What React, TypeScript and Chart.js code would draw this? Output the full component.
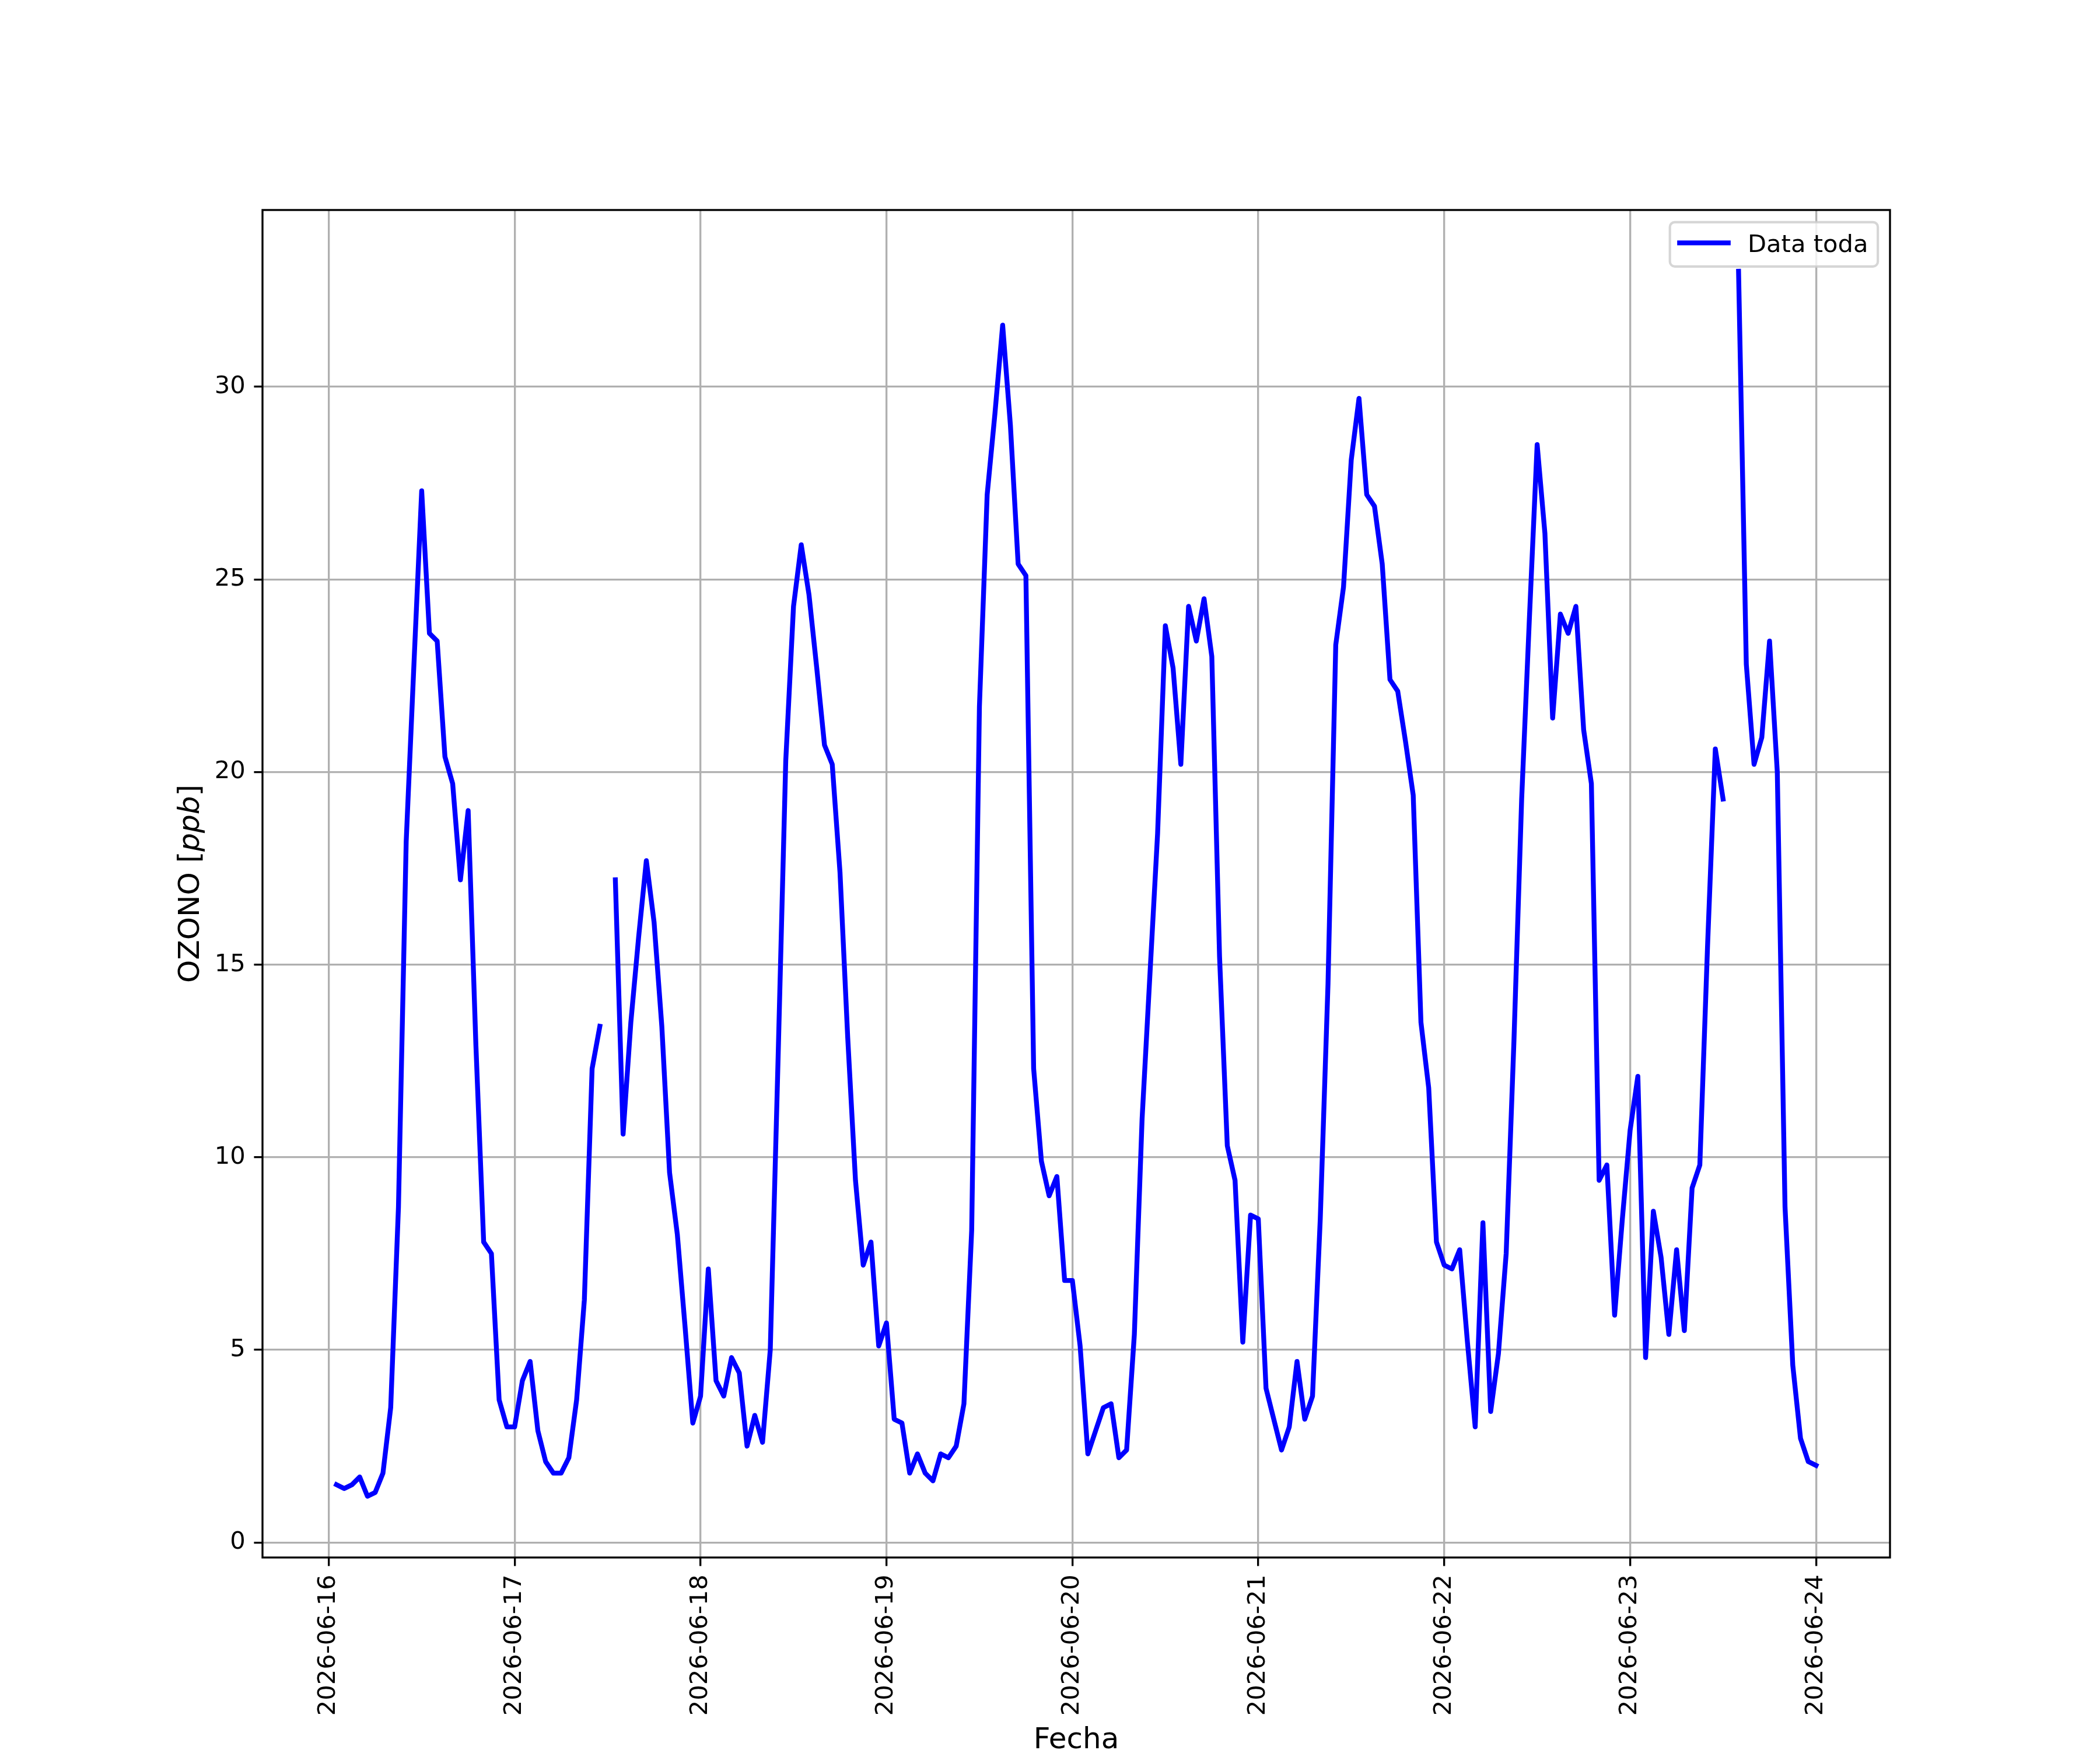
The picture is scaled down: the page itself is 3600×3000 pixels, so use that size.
import React, { useEffect, useRef } from 'react';
import { Chart, registerables } from 'chart.js';

Chart.register(...registerables);

// matplotlib figure: 12 x 10 in at 300 dpi
const pt = (v: number) => (v * 300) / 72;
const FONT = 'DejaVu Sans';

const dayLabels = [
  '2026-06-16',
  '2026-06-17',
  '2026-06-18',
  '2026-06-19',
  '2026-06-20',
  '2026-06-21',
  '2026-06-22',
  '2026-06-23',
  '2026-06-24',
];
const yTicks = [0, 5, 10, 15, 20, 25, 30];

// hourly ozone [ppb], 01:00 .. 24:00 of each day (null = missing)
const ozone0616 = [1.5, 1.4, 1.5, 1.7, 1.2, 1.3, 1.8, 3.5, 8.7, 18.2, 22.8, 27.3, 23.6, 23.4, 20.4, 19.7, 17.2, 19.0, 12.9, 7.8, 7.5, 3.7, 3.0, 3.0];
const ozone0617 = [4.2, 4.7, 2.9, 2.1, 1.8, 1.8, 2.2, 3.7, 6.3, 12.3, 13.4, null, 17.2, 10.6, 13.5, 15.7, 17.7, 16.1, 13.4, 9.6, 8.0, 5.6, 3.1, 3.8];
const ozone0618 = [7.1, 4.2, 3.8, 4.8, 4.4, 2.5, 3.3, 2.6, 5.0, 12.5, 20.3, 24.3, 25.9, 24.6, 22.7, 20.7, 20.2, 17.4, 13.1, 9.4, 7.2, 7.8, 5.1, 5.7];
const ozone0619 = [3.2, 3.1, 1.8, 2.3, 1.8, 1.6, 2.3, 2.2, 2.5, 3.6, 8.1, 21.7, 27.2, 29.3, 31.6, 29.0, 25.4, 25.1, 12.3, 9.9, 9.0, 9.5, 6.8, 6.8];
const ozone0620 = [5.1, 2.3, 2.9, 3.5, 3.6, 2.2, 2.4, 5.4, 11.0, 14.7, 18.4, 23.8, 22.7, 20.2, 24.3, 23.4, 24.5, 23.0, 15.2, 10.3, 9.4, 5.2, 8.5, 8.4];
const ozone0621 = [4.0, 3.2, 2.4, 3.0, 4.7, 3.2, 3.8, 8.4, 14.5, 23.3, 24.8, 28.1, 29.7, 27.2, 26.9, 25.4, 22.4, 22.1, 20.8, 19.4, 13.5, 11.8, 7.8, 7.2];
const ozone0622 = [7.1, 7.6, 5.2, 3.0, 8.3, 3.4, 4.9, 7.5, 13.0, 19.3, 24.0, 28.5, 26.2, 21.4, 24.1, 23.6, 24.3, 21.1, 19.7, 9.4, 9.8, 5.9, 8.4, 10.7];
const ozone0623 = [12.1, 4.8, 8.6, 7.4, 5.4, 7.6, 5.5, 9.2, 9.8, 15.5, 20.6, 19.3, null, 33.0, 22.8, 20.2, 20.9, 23.4, 20.0, 8.7, 4.6, 2.7, 2.1, 2.0];

const ozoneDays = [ozone0616, ozone0617, ozone0618, ozone0619, ozone0620, ozone0621, ozone0622, ozone0623];

// x in days since 2026-06-16 00:00
const points = ozoneDays.flatMap((vals, d) =>
  vals.map((v, i) => ({ x: d + (i + 1) / 24, y: v })),
);

// matplotlib-like 5% autoscale margins
const xs = points.map((p) => p.x);
const ys = points.filter((p) => p.y !== null).map((p) => p.y as number);
const xLo = Math.min(...xs);
const xHi = Math.max(...xs);
const yLo = Math.min(...ys);
const yHi = Math.max(...ys);
const xMin = xLo - 0.05 * (xHi - xLo);
const xMax = xHi + 0.05 * (xHi - xLo);
const yMin = yLo - 0.05 * (yHi - yLo);
const yMax = yHi + 0.05 * (yHi - yLo);

const framePlugin = {
  id: 'mplFrame',
  afterDatasetsDraw(chart: any) {
    const { ctx, chartArea } = chart;
    const { left, right, top, bottom } = chartArea;
    ctx.save();
    ctx.strokeStyle = '#000';
    ctx.lineWidth = pt(0.8);
    ctx.strokeRect(left, top, right - left, bottom - top);

    // legend, upper right
    const fs = pt(10);
    const label = chart.data.datasets[0].label;
    ctx.font = `${fs}px "${FONT}"`;
    const textW = ctx.measureText(label).width;
    const boxW = 0.4 * fs + 2 * fs + 0.8 * fs + textW + 0.4 * fs;
    const boxH = 76;
    const boxX = right - 0.5 * fs - boxW;
    const boxY = top + 0.5 * fs;
    const r = 0.2 * fs;
    ctx.beginPath();
    ctx.moveTo(boxX + r, boxY);
    ctx.lineTo(boxX + boxW - r, boxY);
    ctx.arcTo(boxX + boxW, boxY, boxX + boxW, boxY + r, r);
    ctx.lineTo(boxX + boxW, boxY + boxH - r);
    ctx.arcTo(boxX + boxW, boxY + boxH, boxX + boxW - r, boxY + boxH, r);
    ctx.lineTo(boxX + r, boxY + boxH);
    ctx.arcTo(boxX, boxY + boxH, boxX, boxY + boxH - r, r);
    ctx.lineTo(boxX, boxY + r);
    ctx.arcTo(boxX, boxY, boxX + r, boxY, r);
    ctx.closePath();
    ctx.fillStyle = 'rgba(255,255,255,0.8)';
    ctx.fill();
    ctx.strokeStyle = 'rgba(204,204,204,0.8)';
    ctx.lineWidth = pt(1);
    ctx.stroke();

    const lineY = boxY + 35.5;
    ctx.beginPath();
    ctx.moveTo(boxX + 0.4 * fs, lineY);
    ctx.lineTo(boxX + 2.4 * fs, lineY);
    ctx.strokeStyle = '#0000ff';
    ctx.lineWidth = pt(2);
    ctx.lineCap = 'square';
    ctx.stroke();

    ctx.fillStyle = '#000';
    ctx.textAlign = 'left';
    ctx.textBaseline = 'alphabetic';
    ctx.fillText(label, boxX + 3.2 * fs, boxY + 51);
    ctx.restore();
  },
  afterDraw(chart: any) {
    const { ctx, chartArea } = chart;
    const { left, right, top, bottom } = chartArea;
    const fs = pt(12);
    const normal = `${fs}px "${FONT}"`;
    const italic = `italic ${fs}px "${FONT}"`;
    ctx.save();
    ctx.fillStyle = '#000';
    ctx.textBaseline = 'alphabetic';

    // x title
    ctx.font = normal;
    ctx.textAlign = 'center';
    ctx.fillText('Fecha', (left + right) / 2, 2997);

    // y title: OZONO [$ppb$]
    const parts: [string, string][] = [
      ['OZONO [', normal],
      ['ppb', italic],
      [']', normal],
    ];
    const widths = parts.map(([t, f]) => {
      ctx.font = f;
      return ctx.measureText(t).width;
    });
    const total = widths.reduce((a, b) => a + b, 0);
    ctx.translate(340.5, (top + bottom) / 2);
    ctx.rotate(-Math.PI / 2);
    ctx.textAlign = 'left';
    let cx = -total / 2;
    parts.forEach(([t, f], i) => {
      ctx.font = f;
      ctx.fillText(t, cx, 0);
      cx += widths[i];
    });
    ctx.restore();
  },
};

const OzoneChart: React.FC = () => {
  const canvasRef = useRef<HTMLCanvasElement | null>(null);

  useEffect(() => {
    if (!canvasRef.current) return;

    const tickFont = { family: FONT, size: pt(10) };
    const grid = {
      color: '#b0b0b0',
      lineWidth: pt(0.8),
      tickColor: '#000',
      tickWidth: pt(0.8),
      tickLength: pt(3.5),
    };

    const chart = new Chart(canvasRef.current, {
      type: 'line',
      data: {
        datasets: [
          {
            label: 'Data toda',
            data: points as any,
            borderColor: '#0000ff',
            borderWidth: pt(2),
            pointRadius: 0,
            tension: 0,
            fill: false,
            spanGaps: false,
            borderCapStyle: 'square',
            borderJoinStyle: 'round',
          },
        ],
      },
      options: {
        animation: false,
        responsive: false,
        devicePixelRatio: 1,
        layout: { padding: { top: 360, right: 360, bottom: 0, left: 0 } },
        plugins: { legend: { display: false }, tooltip: { enabled: false } },
        scales: {
          x: {
            type: 'linear',
            min: xMin,
            max: xMax,
            afterBuildTicks: (s: any) => {
              s.ticks = dayLabels.map((_, i) => ({ value: i }));
            },
            afterFit: (s: any) => {
              s.height = 330;
              s.paddingLeft = 0;
              s.paddingRight = 0;
            },
            ticks: {
              autoSkip: false,
              minRotation: 90,
              maxRotation: 90,
              padding: pt(3.5),
              color: '#000',
              font: tickFont,
              callback: (v: any) => dayLabels[Math.round(Number(v))] ?? '',
            },
            grid,
            border: { display: false },
          },
          y: {
            type: 'linear',
            min: yMin,
            max: yMax,
            afterBuildTicks: (s: any) => {
              s.ticks = yTicks.map((v) => ({ value: v }));
            },
            afterFit: (s: any) => {
              s.width = 450;
              s.paddingTop = 0;
              s.paddingBottom = 0;
            },
            ticks: {
              padding: pt(3.5),
              color: '#000',
              font: tickFont,
              callback: (v: any) => String(v),
            },
            grid,
            border: { display: false },
          },
        },
      },
      plugins: [framePlugin],
    });

    return () => {
      chart.destroy();
    };
  }, []);

  return (
    <canvas
      ref={canvasRef}
      width={3600}
      height={3000}
      style={{ width: 3600, height: 3000, display: 'block' }}
    ></canvas>
  );
};

const App: React.FC = () => (
  <div style={{ position: 'absolute', left: 0, top: 0, width: 3600, height: 3000, background: '#fff' }}>
    <OzoneChart />
  </div>
);

export default App;
